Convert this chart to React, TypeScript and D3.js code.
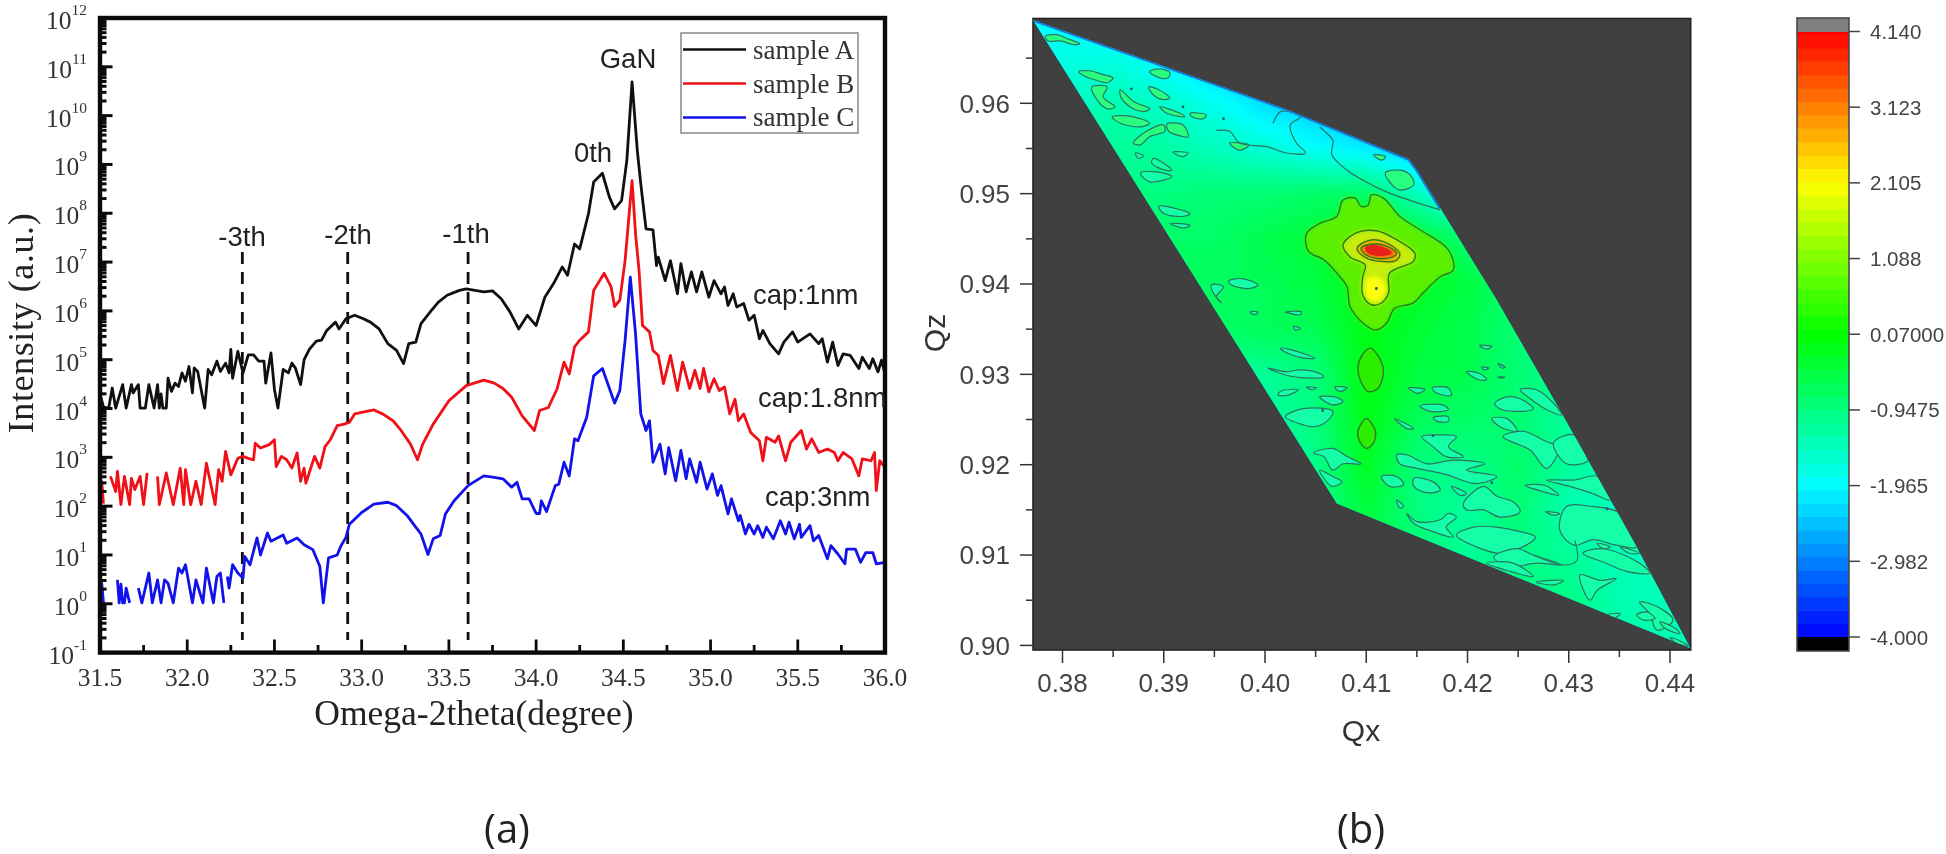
import React from "react";
import * as d3 from "d3";

type P = [number, number | null];
type Q = [number, number];

// ---- panel (a): [2theta in degrees, log10 intensity]
const sampleA: P[] = [[31.5,4.3],[31.52,4.03],[31.55,4.01],[31.57,4.42],[31.59,4.01],[31.63,4.49],[31.65,4.01],[31.68,4.49],[31.69,4.32],[31.72,4.49],[31.73,4.01],[31.76,4.01],[31.78,4.49],[31.81,4.01],[31.83,4.49],[31.84,4.01],[31.85,4.3],[31.86,4.01],[31.88,4.01],[31.89,4.62],[31.91,4.35],[31.93,4.52],[31.95,4.45],[31.97,4.73],[31.99,4.56],[32.01,4.86],[32.03,4.32],[32.04,4.83],[32.06,4.76],[32.1,4.01],[32.12,4.8],[32.14,4.69],[32.17,4.97],[32.19,4.76],[32.22,4.93],[32.24,4.73],[32.25,5.21],[32.26,4.62],[32.29,5.17],[32.32,4.73],[32.35,5.1],[32.38,5.1],[32.41,4.97],[32.44,4.97],[32.45,4.52],[32.48,5.14],[32.5,4.39],[32.52,4.01],[32.55,4.8],[32.58,4.73],[32.6,4.93],[32.62,4.83],[32.65,4.49],[32.67,5.0],[32.7,5.21],[32.74,5.38],[32.77,5.4],[32.8,5.6],[32.85,5.77],[32.87,5.63],[32.91,5.84],[32.96,5.91],[33.01,5.84],[33.05,5.77],[33.1,5.63],[33.15,5.33],[33.2,5.19],[33.24,4.92],[33.27,5.33],[33.31,5.36],[33.34,5.74],[33.4,6.01],[33.44,6.18],[33.49,6.32],[33.56,6.42],[33.6,6.45],[33.7,6.39],[33.75,6.41],[33.8,6.25],[33.85,5.98],[33.9,5.63],[33.95,5.91],[34.0,5.7],[34.05,6.28],[34.1,6.56],[34.15,6.9],[34.18,6.73],[34.22,7.37],[34.25,7.27],[34.3,7.99],[34.33,8.64],[34.38,8.82],[34.42,8.33],[34.45,8.09],[34.49,8.26],[34.52,9.08],[34.55,10.69],[34.58,9.29],[34.6,8.6],[34.63,7.68],[34.67,7.66],[34.69,6.93],[34.7,7.1],[34.74,6.62],[34.77,7.03],[34.81,6.35],[34.83,6.97],[34.86,6.39],[34.89,6.8],[34.92,6.39],[34.95,6.8],[34.99,6.28],[35.02,6.62],[35.06,6.35],[35.08,6.49],[35.1,6.11],[35.13,6.35],[35.15,6.08],[35.19,6.15],[35.22,5.81],[35.25,5.91],[35.28,5.43],[35.3,5.6],[35.34,5.33],[35.39,5.12],[35.42,5.36],[35.47,5.57],[35.5,5.36],[35.57,5.53],[35.62,5.33],[35.64,5.43],[35.67,4.95],[35.7,5.36],[35.73,4.88],[35.76,5.12],[35.8,5.09],[35.85,4.82],[35.87,5.05],[35.91,4.82],[35.93,5.02],[35.96,4.75],[35.98,4.99],[36,4.71]];
const sampleB: P[] = [[31.5,2.05],[31.51,2.5],[31.52,2.05],[31.54,null],[31.56,2.61],[31.59,2.3],[31.6,2.71],[31.62,2.03],[31.64,2.61],[31.67,2.03],[31.68,2.57],[31.7,2.34],[31.73,2.61],[31.75,2.03],[31.77,2.68],[31.8,null],[31.83,2.61],[31.84,2.03],[31.88,2.68],[31.92,2.03],[31.96,2.78],[31.98,2.03],[31.99,2.75],[32.02,2.03],[32.05,2.51],[32.08,2.03],[32.11,2.88],[32.16,2.03],[32.18,2.75],[32.2,2.51],[32.22,3.12],[32.25,2.64],[32.27,2.81],[32.29,2.98],[32.32,3.02],[32.35,2.98],[32.38,2.95],[32.39,3.29],[32.42,3.19],[32.47,3.26],[32.5,3.36],[32.51,2.81],[32.54,3.02],[32.57,2.95],[32.6,2.78],[32.63,3.09],[32.65,2.51],[32.67,2.78],[32.68,2.47],[32.73,3.02],[32.76,2.78],[32.79,3.22],[32.82,3.36],[32.86,3.65],[32.9,3.68],[32.93,3.72],[32.96,3.89],[33.0,3.92],[33.07,3.97],[33.12,3.89],[33.18,3.75],[33.22,3.58],[33.28,3.27],[33.32,2.95],[33.35,3.27],[33.41,3.68],[33.5,4.16],[33.6,4.47],[33.7,4.58],[33.76,4.52],[33.81,4.41],[33.86,4.23],[33.92,3.85],[33.99,3.55],[34.02,3.96],[34.07,4.02],[34.12,4.4],[34.16,4.95],[34.19,4.71],[34.22,5.26],[34.25,5.4],[34.3,5.57],[34.33,6.42],[34.39,6.77],[34.43,6.49],[34.45,6.09],[34.48,6.22],[34.51,7.03],[34.55,8.67],[34.57,7.58],[34.59,6.83],[34.61,5.7],[34.65,5.57],[34.67,5.19],[34.7,5.09],[34.73,4.51],[34.77,5.09],[34.81,4.37],[34.84,4.95],[34.88,4.41],[34.91,4.78],[34.94,4.41],[34.96,4.82],[34.99,4.34],[35.02,4.61],[35.05,4.37],[35.08,4.44],[35.11,3.89],[35.14,4.19],[35.16,3.75],[35.19,3.89],[35.23,3.51],[35.28,3.34],[35.3,2.93],[35.32,3.41],[35.37,3.31],[35.39,3.44],[35.43,2.93],[35.46,3.31],[35.52,3.55],[35.55,3.17],[35.58,3.38],[35.62,3.1],[35.67,3.17],[35.71,3.1],[35.73,2.93],[35.76,3.1],[35.81,2.97],[35.85,2.62],[35.87,2.97],[35.92,2.93],[35.94,3.1],[35.95,2.32],[35.97,2.93],[36,2.8]];
const sampleC: P[] = [[31.5,0.02],[31.51,0.42],[31.52,0.02],[31.56,null],[31.6,0.49],[31.61,0.02],[31.62,0.4],[31.63,0.02],[31.64,0.02],[31.65,0.32],[31.67,0.02],[31.7,null],[31.72,0.32],[31.74,0.02],[31.78,0.63],[31.8,0.02],[31.83,0.49],[31.85,0.02],[31.87,0.49],[31.89,0.42],[31.92,0.02],[31.95,0.73],[31.97,0.63],[31.99,0.8],[32.03,0.02],[32.05,0.49],[32.09,0.02],[32.11,0.73],[32.15,0.02],[32.17,0.56],[32.19,0.63],[32.21,0.02],[32.22,null],[32.23,0.56],[32.24,0.32],[32.26,0.8],[32.29,0.63],[32.32,0.53],[32.33,0.97],[32.36,0.8],[32.4,1.35],[32.42,1.0],[32.46,1.45],[32.48,1.28],[32.55,1.41],[32.57,1.24],[32.63,1.35],[32.67,1.21],[32.72,1.11],[32.76,0.77],[32.78,0.02],[32.81,0.94],[32.86,1.0],[32.88,1.18],[32.91,1.36],[32.93,1.63],[33.0,1.87],[33.07,2.04],[33.15,2.08],[33.2,2.01],[33.26,1.81],[33.31,1.57],[33.34,1.43],[33.38,1.01],[33.41,1.33],[33.45,1.4],[33.48,1.84],[33.53,2.11],[33.61,2.42],[33.7,2.62],[33.76,2.59],[33.81,2.56],[33.86,2.39],[33.89,2.49],[33.92,2.15],[33.96,2.15],[34.0,1.85],[34.02,1.85],[34.03,2.11],[34.06,1.89],[34.11,2.42],[34.13,2.45],[34.16,2.9],[34.19,2.62],[34.22,3.38],[34.24,3.34],[34.29,3.82],[34.33,4.67],[34.38,4.82],[34.45,4.11],[34.48,4.37],[34.51,5.39],[34.54,6.69],[34.57,5.53],[34.6,3.89],[34.63,3.55],[34.65,3.75],[34.67,2.9],[34.71,3.27],[34.74,2.66],[34.76,3.2],[34.8,2.52],[34.83,3.14],[34.86,2.56],[34.88,2.97],[34.92,2.49],[34.94,2.9],[34.98,2.35],[35.01,2.66],[35.04,2.22],[35.06,2.42],[35.1,1.84],[35.12,2.15],[35.16,1.7],[35.17,1.81],[35.2,1.43],[35.22,1.63],[35.25,1.43],[35.27,1.6],[35.3,1.36],[35.32,1.57],[35.36,1.33],[35.4,1.7],[35.43,1.43],[35.45,1.67],[35.48,1.33],[35.51,1.63],[35.52,1.36],[35.57,1.6],[35.59,1.29],[35.62,1.4],[35.67,0.92],[35.69,1.19],[35.73,1.02],[35.77,0.82],[35.78,1.12],[35.83,1.12],[35.86,0.85],[35.89,1.05],[35.93,1.05],[35.95,0.82],[36,0.85]];
const seriesNames = ["sample A", "sample B", "sample C"];
const seriesColors = ["#101010", "#f01018", "#1212ea"];
const orderLines = [32.316, 32.92, 33.61];
const xTickValues = [31.5, 32, 32.5, 33, 33.5, 34, 34.5, 35, 35.5, 36];
const yExponents = [-1, 0, 1, 2, 3, 4, 5, 6, 7, 8, 9, 10, 11, 12];

// ---- panel (b): all map coordinates are [Qx*1000, Qz*1000]
const measuredArea: Q[] = [[377.1,969.2],[402.2,959.3],[414.2,953.8],[415,952.6],[417.3,948.4],[422.9,938.2],[429.3,925.7],[436.7,910.9],[442,899.7],[407.1,915.7]];
const gridQx = [375,380,385,390,395,400,405,410,415,420,425,430,435,440,445];
const gridQz = [970,965,960,955,950,945,940,935,930,925,920,915,910,905,900];
const gridValues = [
 [-1.9,-2.0,-2.2,-2.4,-2.5,-2.5,-2.5,-2.5,-2.5,-2.5,-2.5,-2.5,-2.5,-2.5,-2.5],
 [-1.8,-1.7,-1.7,-2.0,-2.4,-2.5,-2.5,-2.5,-2.5,-2.5,-2.5,-2.5,-2.5,-2.5,-2.5],
 [-1.5,-1.5,-1.3,-1.5,-1.8,-2.2,-2.4,-2.5,-2.5,-2.5,-2.5,-2.5,-2.5,-2.5,-2.5],
 [-1.1,-1.1,-1.1,-1.2,-1.4,-1.6,-1.9,-2.1,-2.4,-2.5,-2.5,-2.5,-2.5,-2.5,-2.5],
 [-0.9,-0.9,-0.9,-0.9,-0.8,-0.8,-0.7,-0.7,-1.4,-2.0,-2.0,-2.0,-2.0,-2.0,-2.0],
 [-0.7,-0.7,-0.7,-0.7,-0.7,-0.5,-0.35,-0.1,-0.3,-0.8,-1.0,-1.0,-1.0,-1.0,-1.0],
 [-0.6,-0.6,-0.6,-0.6,-0.6,-0.6,-0.4,-0.05,-0.2,-0.4,-0.8,-0.9,-0.9,-0.9,-0.9],
 [-0.8,-0.8,-0.8,-0.8,-0.7,-0.6,-0.55,-0.05,-0.3,-0.5,-0.8,-1.0,-1.0,-1.0,-1.0],
 [-1.1,-1.1,-1.1,-1.1,-1.1,-1.1,-0.9,0.0,-0.4,-0.5,-0.8,-1.1,-1.1,-1.1,-1.1],
 [-1.2,-1.2,-1.2,-1.2,-1.2,-1.2,-0.9,-0.05,-0.6,-0.7,-0.8,-1.15,-1.3,-1.3,-1.3],
 [-1.2,-1.2,-1.2,-1.2,-1.2,-1.2,-1.0,-0.15,-0.9,-1.0,-0.7,-1.15,-1.3,-1.3,-1.3],
 [-1.2,-1.2,-1.2,-1.2,-1.2,-1.2,-1.0,-0.35,-0.9,-1.15,-0.8,-1.3,-1.45,-1.45,-1.45],
 [-1.0,-1.0,-1.0,-1.0,-1.0,-1.0,-0.8,-0.6,-0.8,-1.1,-0.95,-1.1,-1.35,-1.4,-1.4],
 [-1.0,-1.0,-1.0,-1.0,-1.0,-1.0,-0.8,-0.7,-0.8,-0.95,-0.85,-0.95,-1.3,-1.4,-1.4],
 [-1.0,-1.0,-1.0,-1.0,-1.0,-1.0,-0.9,-0.8,-0.9,-0.95,-0.95,-1.0,-1.15,-1.3,-1.3],
];
const rimEdge: Q[] = [[377.1,969.2],[402.2,959.3],[414.2,953.8],[415,952.6],[417.3,948.4]];

const peakBands: { level: string; fill: string; pts: Q[] }[] = [
  { level: "outer", fill: "#5cf000", pts: [[404.1,945.6],[405.4,946.7],[407.1,947.5],[407.7,949.3],[408.9,949.5],[409.5,948.6],[410.2,948.75],[410.5,949.85],[411.7,949.5],[413.3,947.5],[415.3,946],[418.1,943.8],[418.6,941.55],[417.3,940.8],[415.6,939],[414.65,937.9],[412.8,937.3],[412,935.65],[410.9,934.9],[409.7,935.65],[408.4,937.5],[408.1,939.7],[407.1,941.2],[405.8,942.7],[404.3,943.6]] },
  { level: "middle", fill: "#c4ee08", pts: [[407.7,944.3],[408.9,945.6],[411,945.9],[413,944.9],[414.8,943.4],[414.65,942.5],[412.3,941.2],[412.2,939],[411.5,937.9],[410.5,937.7],[409.65,938.8],[409.65,940.8],[409.9,942.1],[408.4,943]] },
  { level: "high", fill: "#f8a800", pts: [[409.1,943.95],[410.2,944.8],[411.7,944.7],[413.3,943.4],[413,942.65],[411.4,942.5],[409.9,942.95]] },
  { level: "top", fill: "#f85a10", pts: [[409.5,943.95],[410.5,944.4],[412,944.2],[413,943.4],[412.5,942.95],[411,942.85],[409.9,943.3]] },
];
const peakCore: Q[] = [[409.9,944.05],[411,944.3],[412.3,943.75],[412.5,943.4],[411.4,943.1],[410.2,943.4]];
const secondaryPeak: Q[] = [[410.1,940.6],[411.4,940.6],[411.9,939.3],[411.3,938.2],[410.4,938.2],[409.9,939.3]];
const pits: Q[] = [[411,939.5],[405.7,926],[416.6,923.2],[422.4,918],[433.8,915.1],[386.8,961.6],[395.9,958.3],[391.9,959.6]];

const greenerIslands: Q[][] = [
  [[378.3,967.4],[379.4,967.6],[380.6,967.1],[381.7,966.6],[381.1,966.5],[379.8,966.9],[378.6,966.9]],
  [[381.6,963.5],[382.7,963.6],[383.9,963.2],[385,962.8],[384.4,962.3],[383.2,962.6],[382.2,963]],
  [[388.6,963.5],[389.6,963.8],[390.6,963.4],[390.4,962.8],[389.4,962.9]],
  [[382.9,961.8],[384.4,961.8],[384,960.7],[385.2,959.6],[384.4,959.4],[383.4,960.4]],
  [[385.7,961.5],[387,960.2],[388.6,959.4],[388.1,959.1],[387,959.4],[385.8,960.6]],
  [[388.5,961.8],[389.5,961.5],[390.6,960.6],[390.1,960.4],[389,960.9]],
  [[389.6,959.6],[391.6,958.9],[392.1,958.5],[390.3,958.9]],
  [[392.6,958.9],[394.2,958.7],[393.9,958.3],[392.8,958.5]],
  [[384.9,958.5],[387,958.5],[388.6,957.8],[387.7,957.4],[385.7,957.8]],
  [[390.3,957.7],[391.9,957.6],[392.4,956.3],[391.3,956.5],[390.5,956.9]],
  [[387,955.6],[388.3,956.9],[390,957.6],[390.1,956.9],[388.6,956.3],[387.7,955.4]],
  [[396.5,955.6],[398.4,955.4],[397.5,954.8]],
  [[411.9,952.3],[413.3,952.6],[414.3,952.1],[414.7,951],[413.3,950.4],[412.3,951.3]],
  [[410.7,954.3],[411.9,954.1],[411.5,953.7]],
];
const cyanerIslands: Q[][] = [
  [[387.2,954.5],[388,954.2],[387.5,953.9]],
  [[390.9,954.6],[392.4,954.5],[391.9,954.1]],
  [[389,953.9],[390.8,952.6],[390.1,952.6],[388.8,953.4]],
  [[387.7,952.3],[389.3,952.4],[390.8,951.9],[388.6,951.3]],
  [[389.5,948.6],[392.6,947.8],[392,947.5],[390,947.8]],
  [[390.6,946.7],[392.6,946.5],[392,946.2]],
  [[394.7,939.9],[395.9,939.7],[395.2,938.6],[395.7,937.9],[394.9,939]],
  [[396.4,940.3],[397.7,940.6],[399.3,939.9],[398.4,939.5],[396.7,939.9]],
  [[398.5,936.9],[399.3,936.9],[399,936.6]],
  [[402,936.9],[403.6,936.9],[403.5,936.6],[402.3,936.8]],
  [[402.8,935.3],[403.5,935.1],[403,934.9]],
  [[401.5,932.9],[402.6,932.7],[404.9,931.8],[403.8,931.8],[402.3,932.3]],
  [[400.3,930.7],[402.1,930.3],[403.5,930.5],[405.4,930.1],[405.8,929.7],[404.1,929.6],[402.1,929.9]],
  [[401.5,928.1],[403.3,928.3],[402.3,927.7],[401.3,927.7]],
  [[404.1,928.6],[405.1,928.5],[404.6,928.3]],
  [[405.4,927.5],[406.9,927.5],[407.7,927],[406.7,926.6]],
  [[406.9,928.6],[408.1,928.5],[407.4,928.1]],
  [[402,925.3],[403.8,926.2],[406.7,925.9],[406.1,924.8],[404.8,924.2],[403.8,924.4]],
  [[404.8,921.3],[406.7,921.8],[408.1,920.9],[409.5,920.1],[407.7,920.1],[406.7,919.4],[405.8,920.9]],
  [[405.4,919.4],[406.7,918.7],[407.6,918.1],[406.6,917.6]],
  [[411.5,918.7],[413,918.7],[413.7,917.8],[412.3,917.6]],
  [[414.7,918.5],[416.6,918.1],[417.3,917.2],[416,916.9],[414.7,917.6]],
  [[413,921.1],[414,921.1],[416,920.1],[418.6,920.5],[421.7,920.1],[419.9,919.4],[422.9,918.7],[420.9,917.9],[417.9,918.9],[415,919.6],[413.3,920.1]],
  [[415.5,923.1],[417.3,923.3],[418.9,923.1],[418.1,922],[419.6,920.9],[417.9,920.9],[416.6,922]],
  [[414.2,928.5],[415.8,928.3],[415,927.9]],
  [[416.5,928.5],[418.1,928.5],[418.4,927.7],[417,927.9]],
  [[415.3,926.5],[417.6,926.6],[418.1,926.1],[416.3,925.9]],
  [[416.6,925.2],[418.1,925.3],[418.1,924.8],[417,924.8]],
  [[412.8,925.1],[414.7,924],[414,924]],
  [[419.9,930.3],[421.2,930.1],[421.9,929.4],[421.1,929.4]],
  [[421.2,933.2],[422.4,933.1],[421.9,932.8]],
  [[421.4,930.8],[422.1,930.7],[421.6,930.5]],
  [[423,931.2],[423.7,930.8],[423.4,930.7]],
  [[423,929.7],[423.7,929.7],[423.4,929.6]],
  [[425.2,928.3],[426.8,928.3],[428.5,926.8],[429.3,925.5],[427.8,926.1],[426.2,927.3]],
  [[422.7,926.8],[423.9,927.5],[425.2,927.3],[426.5,926.2],[424.9,925.9],[423.2,926.2]],
  [[422.4,925.1],[423.9,925.1],[424.9,923.7],[423.2,924.2]],
  [[423.5,923.1],[425.5,923.7],[427.5,922.7],[429,921.8],[427.8,919.6],[426.2,921.6]],
  [[428.5,922.4],[430.5,923.3],[431.9,920.5],[429.8,920.1]],
  [[425.7,917.7],[427.7,917.7],[429,916.6],[427.5,917]],
  [[427.7,914.8],[429.1,914.6],[428.5,914.4]],
  [[427.8,918.3],[430.5,918.3],[432.9,918.7],[434.1,916.1],[432.4,916.8],[430.1,917.6]],
  [[429.8,915.4],[432.1,915.4],[435.1,914.6],[436.7,910.9],[434.7,911.1],[432.4,911.7],[430.5,911.1],[429.1,912.8]],
  [[419.6,915.7],[421.6,917.6],[422.9,916.5],[424.5,915.9],[425.2,914.8],[423.2,914.2],[421.6,915],[419.9,915]],
  [[418.4,917.6],[419.9,916.8],[419.3,916.6]],
  [[413,916.1],[413.7,915.4],[413.3,915.2]],
  [[414,914.6],[415,913.7],[417.3,913.9],[418.1,914.6],[418.9,914.2],[417.9,913.1],[418.6,912],[416.6,912.6],[414.7,913.5]],
  [[418.9,912.2],[420.6,913.1],[422.9,913.1],[425.2,912.6],[426.7,912],[425.8,911.1],[423.2,910.2],[420.9,910.9]],
  [[422.6,909.8],[424.9,910.7],[426.5,910],[429.3,908.9],[426.8,909.1],[423.9,908.7]],
  [[426.8,907],[429.5,907.2],[428.5,906.7]],
  [[421.9,909.1],[424.5,909.1],[426.5,907.6],[424.2,908.2]],
  [[431.1,907.8],[433.1,907.2],[434.7,907.4],[432.8,906.1],[432.1,905]],
  [[431.4,910.2],[433.4,910.7],[437,909.1],[438,908],[435.7,908.2],[433.7,909.1]],
  [[432.8,911.3],[434.1,910.9],[433.4,910.7]],
  [[435.1,910.9],[437,910.2],[436,910.2]],
  [[437,904.8],[438.7,904.3],[440.3,902.8],[438.7,901.7],[438,903.5]],
  [[436.7,903.4],[437.7,903.7],[438.5,903],[437.4,902.8]],
  [[439,902.6],[440.5,901.9],[441,901.3],[439.5,901.9]],
  [[440,900.9],[441.8,900],[440.7,900.2]],
  [[433.9,903.4],[435.1,903.5],[434.4,903]],
];
const lobes: Q[][] = [
  [[410.4,932.9],[411.2,932],[411.7,930.5],[411.2,928.5],[410.2,928.1],[409.4,929.4],[409.2,931],[409.7,932.3]],
  [[410,925.1],[410.9,923.7],[410.7,922.4],[410,921.8],[409.3,922.7],[409.2,923.8]],
];
const openContours: Q[][] = [
  [[395.2,957],[396.5,956.9],[397.5,955.6],[400.2,955.2],[402.1,954.5],[404,954.5],[403.1,955.6],[402.5,957.6],[403.5,958.5],[401.6,959.1],[400.8,957.8]],
  [[405.4,957.4],[405.8,957],[406.7,955.9],[406.6,954.3],[408.1,952.6],[410,951.3],[412,950.2],[415.3,948.9],[417.3,948.2]],
  [[426.5,910],[429.5,908.9],[430.8,909.4],[430.6,911.6]],
];
const qxLabels = [0.38, 0.39, 0.40, 0.41, 0.42, 0.43, 0.44];
const qzLabels = [0.90, 0.91, 0.92, 0.93, 0.94, 0.95, 0.96];
const colorbarTicks = ["4.140", "3.123", "2.105", "1.088", "0.07000", "-0.9475", "-1.965", "-2.982", "-4.000"];
const colorStops = [-4, -1.965, 0.07, 2.105, 4.14];
const colorNames = ["#0000ff", "#00ffff", "#00ff00", "#ffff00", "#ff0000"];

const W = 1946, H = 854;
const SERIF = "'Liberation Serif', serif";
const SANS = "'Liberation Sans', sans-serif";

const xA = d3.scaleLinear().domain([31.5, 36]).range([100, 885]);
const yA = d3.scaleLog().domain([1e-1, 1e12]).range([652.6, 18]);
const lineA = d3.line<P>().defined((d) => d[1] !== null).x((d) => xA(d[0])).y((d) => yA(Math.pow(10, d[1] as number)));

const xB = d3.scaleLinear().domain([0.40, 0.44]).range([1265, 1670]);
const yB = d3.scaleLinear().domain([0.96, 0.90]).range([103.3, 645.4]);
const frameB = { l: 1033, r: 1690.7, t: 18.5, b: 650 };
const toPx = (q: Q): [number, number] => [xB(q[0] / 1000), yB(q[1] / 1000)];
const blob = d3.line<Q>().x((d) => toPx(d)[0]).y((d) => toPx(d)[1]).curve(d3.curveCatmullRomClosed.alpha(0.5));
const poly = d3.line<Q>().x((d) => toPx(d)[0]).y((d) => toPx(d)[1]);
const wiggle = d3.line<Q>().x((d) => toPx(d)[0]).y((d) => toPx(d)[1]).curve(d3.curveCatmullRom.alpha(0.5));

const heat = d3.scaleLinear<string>().domain(colorStops).range(colorNames).clamp(true);
const yBar = d3.scaleLinear().domain([4.14, -4]).range([31.5, 637]);

function buildField() {
  const factor = 8;
  const n = gridQx.length, m = gridQz.length;
  const w = (n - 1) * factor + 1, h = (m - 1) * factor + 1;
  const values = new Array(w * h);
  for (let j = 0; j < h; j++) {
    const v = j / factor, j0 = Math.min(Math.floor(v), m - 2), fy = v - j0;
    for (let i = 0; i < w; i++) {
      const u = i / factor, i0 = Math.min(Math.floor(u), n - 2), fx = u - i0;
      values[j * w + i] =
        gridValues[j0][i0] * (1 - fx) * (1 - fy) + gridValues[j0][i0 + 1] * fx * (1 - fy) +
        gridValues[j0 + 1][i0] * (1 - fx) * fy + gridValues[j0 + 1][i0 + 1] * fx * fy;
    }
  }
  const contours = d3.contours().size([w, h]).thresholds(d3.range(-2.6, 0.6, 0.08))(values);
  const sx = d3.scaleLinear().domain([0.5, w - 0.5]).range([gridQx[0], gridQx[n - 1]]);
  const sy = d3.scaleLinear().domain([0.5, h - 0.5]).range([gridQz[0], gridQz[m - 1]]);
  const path = d3.geoPath(d3.geoTransform({
    point(x: number, y: number) {
      const p = toPx([sx(x), sy(y)]);
      (this as any).stream.point(p[0], p[1]);
    },
  }));
  return contours.map((c) => ({ d: path(c as any) || "", fill: heat(c.value) }));
}

function PanelA() {
  const minor: { y: number; major: boolean }[] = [];
  yExponents.forEach((e) => {
    minor.push({ y: yA(Math.pow(10, e)), major: true });
    if (e < 12) d3.range(2, 10).forEach((k) => minor.push({ y: yA(k * Math.pow(10, e)), major: false }));
  });
  const all = [sampleA, sampleB, sampleC];
  const xMinor = xTickValues.slice(0, -1).map((v) => v + 0.25);
  return (
    <g>
      {orderLines.map((v) => (
        <line key={v} x1={xA(v)} x2={xA(v)} y1={252} y2={640} stroke="#111" strokeWidth={2.8} strokeDasharray="12 8" />
      ))}
      {all.map((s, i) => (
        <path key={i} d={lineA(s) || ""} fill="none" stroke={seriesColors[i]} strokeWidth={2.8} strokeLinejoin="round" />
      ))}
      <rect x={100} y={18} width={785} height={634.6} fill="none" stroke="#0a0a0a" strokeWidth={4.4} />
      {minor.map((t, i) => (
        <line key={i} x1={100} x2={t.major ? 112.5 : 106.5} y1={t.y} y2={t.y} stroke="#0a0a0a" strokeWidth={3} />
      ))}
      {xTickValues.map((v) => (
        <line key={v} x1={xA(v)} x2={xA(v)} y1={652.6} y2={639.5} stroke="#0a0a0a" strokeWidth={2.8} />
      ))}
      {xMinor.map((v) => (
        <line key={v} x1={xA(v)} x2={xA(v)} y1={652.6} y2={645} stroke="#0a0a0a" strokeWidth={2.8} />
      ))}
      {xTickValues.map((v) => (
        <text key={v} x={xA(v)} y={686} textAnchor="middle" fontFamily={SERIF} fontSize={25.5} fill="#333">{v.toFixed(1)}</text>
      ))}
      {yExponents.map((e) => (
        <text key={e} x={87} y={yA(Math.pow(10, e)) + 11} textAnchor="end" fontFamily={SERIF} fontSize={25.5} fill="#333">
          10<tspan dy={-14} fontSize={15.5}>{e}</tspan>
        </text>
      ))}
      <text transform="translate(33,323) rotate(-90)" textAnchor="middle" fontFamily={SERIF} fontSize={36} letterSpacing={0.6} fill="#222">Intensity (a.u.)</text>
      <text x={474} y={725} textAnchor="middle" fontFamily={SERIF} fontSize={35.5} fill="#222">Omega-2theta(degree)</text>
      <g fontFamily={SANS} fontSize={27.5} fill="#222">
        <text x={242} y={246} textAnchor="middle">-3th</text>
        <text x={348} y={244} textAnchor="middle">-2th</text>
        <text x={466} y={243} textAnchor="middle">-1th</text>
        <text x={593} y={162} textAnchor="middle">0th</text>
        <text x={628} y={68} textAnchor="middle">GaN</text>
        <text x={753} y={304}>cap:1nm</text>
        <text x={758} y={407}>cap:1.8nm</text>
        <text x={765} y={506}>cap:3nm</text>
      </g>
      <rect x={681} y={33} width={177} height={100} fill="none" stroke="#888" strokeWidth={1.5} />
      {seriesNames.map((n, i) => (
        <g key={n}>
          <line x1={683} x2={746} y1={49.5 + i * 34} y2={49.5 + i * 34} stroke={seriesColors[i]} strokeWidth={2.6} />
          <text x={753} y={59 + i * 33.6} fontFamily={SERIF} fontSize={27} fill="#333">{n}</text>
        </g>
      ))}
    </g>
  );
}

function PanelB() {
  const field = React.useMemo(buildField, []);
  const clip = (poly(measuredArea) || "") + "Z";
  const lineColor = "#2a7560";
  return (
    <g>
      <defs>
        <clipPath id="area"><path d={clip} /></clipPath>
        <filter id="soft" x="-10%" y="-10%" width="120%" height="120%"><feGaussianBlur stdDeviation={4} /></filter>
        <filter id="softer" x="-30%" y="-30%" width="160%" height="160%"><feGaussianBlur stdDeviation={2} /></filter>
      </defs>
      <rect x={frameB.l} y={frameB.t} width={frameB.r - frameB.l} height={frameB.b - frameB.t} fill="#404040" stroke="#222" strokeWidth={1.6} />
      <g clipPath="url(#area)">
        <rect x={frameB.l} y={frameB.t} width={frameB.r - frameB.l} height={frameB.b - frameB.t} fill={heat(-2.5)} />
        <g filter="url(#soft)">
          {field.map((c, i) => <path key={i} d={c.d} fill={c.fill} />)}
        </g>
        {greenerIslands.map((p, i) => <path key={i} d={blob(p) || ""} fill="#28ff80" stroke={lineColor} strokeWidth={1.2} />)}
        {cyanerIslands.map((p, i) => <path key={i} d={blob(p) || ""} fill="#14ffa8" stroke={lineColor} strokeWidth={1.2} />)}
        {lobes.map((p, i) => <path key={i} d={blob(p) || ""} fill="#2cee00" stroke="#2c7a28" strokeWidth={1.4} />)}
        <g filter="url(#softer)">
          {peakBands.map((b) => <path key={b.level} d={blob(b.pts) || ""} fill={b.fill} />)}
          <path d={blob(secondaryPeak) || ""} fill="#ffff10" />
        </g>
        {peakBands.map((b) => <path key={b.level} d={blob(b.pts) || ""} fill="none" stroke="#2f7a18" strokeWidth={1.4} />)}
        <path d={blob(peakCore) || ""} fill="#e8201a" />
        {openContours.map((p, i) => <path key={i} d={wiggle(p) || ""} fill="none" stroke={lineColor} strokeWidth={1.2} />)}
        <path d={poly(rimEdge) || ""} fill="none" stroke="#1a70e0" strokeWidth={3} />
        {pits.map((p, i) => <circle key={i} cx={toPx(p)[0]} cy={toPx(p)[1]} r={1.4} fill="#1a5a80" />)}
      </g>
      <g stroke="#333" strokeWidth={1.5}>
        {d3.range(0.375, 0.4401, 0.005).filter((v) => xB(v) > frameB.l + 2).map((v, i) => {
          const major = Math.abs(v * 100 - Math.round(v * 100)) < 1e-6;
          return <line key={i} x1={xB(v)} x2={xB(v)} y1={frameB.b} y2={frameB.b + (major ? 13 : 7)} />;
        })}
        {d3.range(0.90, 0.9651, 0.005).map((v, i) => {
          const major = Math.abs(v * 100 - Math.round(v * 100)) < 1e-6;
          return <line key={i} x1={frameB.l} x2={frameB.l - (major ? 13 : 7)} y1={yB(v)} y2={yB(v)} />;
        })}
      </g>
      {qxLabels.map((v) => (
        <text key={v} x={xB(v)} y={692} textAnchor="middle" fontFamily={SANS} fontSize={26} fill="#444">{v.toFixed(2)}</text>
      ))}
      {qzLabels.map((v) => (
        <text key={v} x={1010} y={yB(v) + 9.3} textAnchor="end" fontFamily={SANS} fontSize={26} fill="#444">{v.toFixed(2)}</text>
      ))}
      <text x={1361} y={741} textAnchor="middle" fontFamily={SANS} fontSize={30} fill="#333">Qx</text>
      <text transform="translate(945,333) rotate(-90)" textAnchor="middle" fontFamily={SANS} fontSize={30} fill="#333">Qz</text>
    </g>
  );
}

function ColorBar() {
  const bands = d3.range(-4, 4.14, 0.18);
  const tickVals = d3.range(0, 9).map((i) => 4.14 - (i * 8.14) / 8);
  return (
    <g>
      {bands.map((v) => (
        <rect key={v} x={1797} y={yBar(v + 0.18)} width={52} height={yBar(v) - yBar(v + 0.18) + 0.6} fill={heat(v + 0.09)} />
      ))}
      <rect x={1797} y={18} width={52} height={14} fill="#808080" />
      <rect x={1797} y={637} width={52} height={14} fill="#000" />
      <rect x={1797} y={18} width={52} height={633} fill="none" stroke="#4a4a4a" strokeWidth={1.6} />
      {tickVals.map((v, i) => (
        <g key={i}>
          <line x1={1849} x2={1860} y1={yBar(v)} y2={yBar(v)} stroke="#444" strokeWidth={1.5} />
          <text x={1870} y={yBar(v) + 7.5} fontFamily={SANS} fontSize={20.5} fill="#444">{colorbarTicks[i]}</text>
        </g>
      ))}
    </g>
  );
}

export default function App() {
  return (
    <svg width={W} height={H} viewBox={`0 0 ${W} ${H}`} style={{ position: "absolute", left: 0, top: 0, filter: "blur(0.55px)", background: "#fff" }}>
      <PanelA />
      <PanelB />
      <ColorBar />
      <text x={507} y={843} textAnchor="middle" fontFamily="'Open Sans', sans-serif" fontSize={40} fill="#222">(a)</text>
      <text x={1361} y={843} textAnchor="middle" fontFamily="'Open Sans', sans-serif" fontSize={40} fill="#222">(b)</text>
    </svg>
  );
}
